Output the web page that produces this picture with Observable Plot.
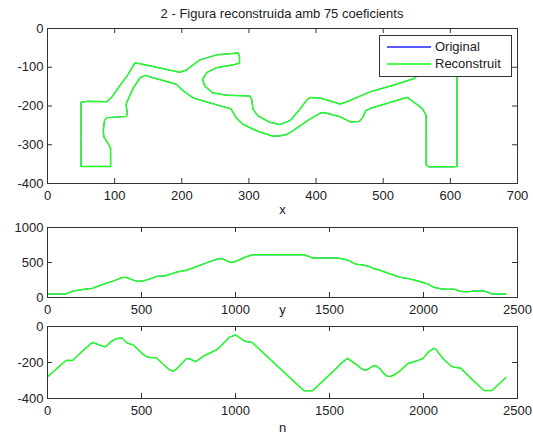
<!DOCTYPE html>
<html><head><meta charset="utf-8">
<script src="https://cdn.jsdelivr.net/npm/d3@7"></script>
<script src="https://cdn.jsdelivr.net/npm/@observablehq/plot@0.6"></script>
<style>
body{margin:0;background:#fff;font-family:"Liberation Sans",Arial,sans-serif;}
#wrap{position:relative;width:533px;height:436px;overflow:hidden;background:#fff}
.abs{position:absolute}
#title{left:47px;width:470px;top:6px;text-align:center;font-size:13px;line-height:16px;color:#222}
#legend{left:379px;top:35px;width:133px;height:42px;background:#fff;border:1px solid #333;box-sizing:border-box;font-size:13px;color:#222}
.sw{position:absolute;left:7px;width:44px;height:2px}
.lt{position:absolute;left:55px;line-height:16px}
</style></head><body>
<div id="wrap">
  <div id="title" class="abs">2 - Figura reconstruida amb 75 coeficients</div>
  <div id="p1" class="abs" style="left:0;top:0"></div>
  <div id="p2" class="abs" style="left:0;top:218px"></div>
  <div id="p3" class="abs" style="left:0;top:318px"></div>
  <div id="legend" class="abs">
    <div class="sw" style="top:10px;background:#5a5aff"></div><div class="lt" style="top:3px">Original</div>
    <div class="sw" style="top:27px;background:#4dff4d"></div><div class="lt" style="top:20px">Reconstruit</div>
  </div>
</div>
<script>
// contour samples: index along the boundary, x coordinate, y coordinate
const nIndex = [0,96,106,133,143,173,205,237,245,305,315,342,366,384,395,404,420,427,453,469,485,502,522,545,580,588,614,632,651,668,685,714,735,742,757,787,797,832,867,900,915,935,965,980,1000,1050,1089,1363,1370,1408,1415,1545,1560,1594,1600,1635,1645,1665,1680,1700,1718,1735,1745,1770,1790,1801,1812,1825,1851,1875,1892,1915,1940,1975,1995,2011,2025,2045,2057,2066,2085,2105,2122,2148,2165,2195,2203,2228,2245,2263,2275,2321,2365,2438];
const xCoord = [50,50,61,88,95,107,120,130,138,197,207,227,252,272,284,286,286,279,252,237,231,234,246,266,301,304,306,313,331,346,362,377,387,392,407,436,446,481,516,546,556,548,510,500,515,575,610,610,605,568,564,564,558,536,531,481,474,469,464,451,436,412,407,389,367,357,347,336,311,291,281,273,256,232,217,202,192,157,146,138,128,121,117,119,117,89,85,83,84,91,94,94,50,50];
const yCoord = [-280,-190,-188,-189,-179,-149,-119,-89,-91,-113,-107,-81,-68,-65,-63,-72,-89,-93,-101,-114,-131,-148,-166,-172,-174,-182,-208,-225,-242,-248,-237,-206,-183,-178,-180,-195,-189,-163,-146,-129,-115,-95,-62,-55,-47,-82,-89,-356,-357,-357,-352,-224,-206,-178,-180,-206,-212,-231,-240,-241,-228,-217,-218,-236,-262,-273,-277,-278,-264,-247,-230,-207,-199,-187,-179,-161,-144,-127,-121,-127,-153,-179,-196,-221,-227,-230,-237,-263,-280,-299,-310,-356,-356,-283];

const seriesNames = ["Original", "Reconstruit"];
const xTicksTop = [0,100,200,300,400,500,600,700];
const yTicksTop = [0,-100,-200,-300,-400];
const nTicks = [0,500,1000,1500,2000,2500];
const xValTicks = [0,500,1000];
const yValTicks = [0,-200,-400];
const axisLabels = ["x","y","n"];

const rows = nIndex.map((v,i)=>({n:v, x:xCoord[i], y:yCoord[i]}));
const colors = {Original:"#3030ff", Reconstruit:"#22ff22"};
const fmt = d => String(d);
const boxStroke = "#333";
const TL = 5;

function panel({xKey, yKey, xDomain, yDomain, xTicks, yTicks, label, height, mt, mb, labelDy}) {
  const fw = 533 - 47 - 16, fh = height - mt - mb;
  const marks = [];
  for (const s of seriesNames) marks.push(Plot.line(rows, {x: xKey, y: yKey, stroke: colors[s], strokeWidth: s === "Original" ? 1 : 1.5}));
  marks.push(
    Plot.frame({stroke: boxStroke}),
    Plot.tickX(xTicks, {x: d=>d, insetTop: fh - TL, stroke: boxStroke}),
    Plot.tickX(xTicks, {x: d=>d, insetBottom: fh - TL, stroke: boxStroke}),
    Plot.tickY(yTicks, {y: d=>d, insetRight: fw - TL, stroke: boxStroke}),
    Plot.tickY(yTicks, {y: d=>d, insetLeft: fw - TL, stroke: boxStroke}),
    Plot.axisX({ticks: xTicks, tickSize: 0, tickPadding: 7, tickFormat: fmt, anchor: "bottom", label: null}),
    Plot.axisY({ticks: yTicks, tickSize: 0, tickPadding: 4, tickFormat: fmt, anchor: "left", label: null}),
    Plot.text([label], {frameAnchor: "bottom", dy: labelDy, text: d=>d, fill: "#222"})
  );
  return Plot.plot({
    width: 533, height, marginLeft: 47, marginRight: 16, marginTop: mt, marginBottom: mb,
    x: {domain: xDomain}, y: {domain: yDomain},
    style: {fontSize: "13px", fontFamily: "Liberation Sans, Arial, sans-serif", color: "#222", background: "transparent"},
    marks
  });
}

document.getElementById("p1").append(panel({xKey:"x", yKey:"y", xDomain:[0,700], yDomain:[-400,0], xTicks:xTicksTop, yTicks:yTicksTop, label:axisLabels[0], height:218, mt:28, mb:35, labelDy:30}));
document.getElementById("p2").append(panel({xKey:"n", yKey:"x", xDomain:[0,2500], yDomain:[0,1000], xTicks:nTicks, yTicks:xValTicks, label:axisLabels[1], height:100, mt:9, mb:21, labelDy:16}));
document.getElementById("p3").append(panel({xKey:"n", yKey:"y", xDomain:[0,2500], yDomain:[-400,0], xTicks:nTicks, yTicks:yValTicks, label:axisLabels[2], height:118, mt:8, mb:38, labelDy:33}));
</script>
</body></html>
